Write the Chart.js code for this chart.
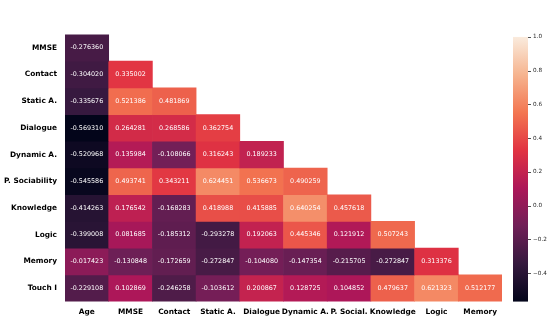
<!DOCTYPE html>
<html>
<head>
<meta charset="utf-8">
<script src="https://cdn.jsdelivr.net/npm/chart.js@4/dist/chart.umd.min.js"></script>
<style>
  html, body { margin: 0; padding: 0; background: #ffffff; }
  canvas { display: block; }
</style>
</head>
<body>
<canvas id="c" width="550" height="336"></canvas>
<script>
// ---- data ----
const rowLabels = ["MMSE", "Contact", "Static A.", "Dialogue", "Dynamic A.", "P. Sociability", "Knowledge", "Logic", "Memory", "Touch I"];
const colLabels = ["Age", "MMSE", "Contact", "Static A.", "Dialogue", "Dynamic A.", "P. Social.", "Knowledge", "Logic", "Memory"];

const rowMMSE        = [-0.276360];
const rowContact     = [-0.304020, 0.335002];
const rowStaticA     = [-0.335676, 0.521386, 0.481869];
const rowDialogue    = [-0.569310, 0.264281, 0.268586, 0.362754];
const rowDynamicA    = [-0.520968, 0.135984, -0.108066, 0.316243, 0.189233];
const rowPSociab     = [-0.545586, 0.493741, 0.343211, 0.624451, 0.536673, 0.490259];
const rowKnowledge   = [-0.414263, 0.176542, -0.168283, 0.418988, 0.415885, 0.640254, 0.457618];
const rowLogic       = [-0.399008, 0.081685, -0.185312, -0.293278, 0.192063, 0.445346, 0.121912, 0.507243];
const rowMemory      = [-0.017423, -0.130848, -0.172659, -0.272847, -0.104080, -0.147354, -0.215705, -0.272847, 0.313376];
const rowTouchI      = [-0.229108, 0.102869, -0.246258, -0.103612, 0.200867, 0.128725, 0.104852, 0.479637, 0.621323, 0.512177];

const rows = [rowMMSE, rowContact, rowStaticA, rowDialogue, rowDynamicA, rowPSociab, rowKnowledge, rowLogic, rowMemory, rowTouchI];

const colorbarTicks = [-0.4, -0.2, 0.0, 0.2, 0.4, 0.6, 0.8, 1.0];
const vmin = -0.569310;
const vmax = 1.0;

// ---- rocket colormap ----
const rocketStops = [
  [0.000, [3, 5, 26]],
  [0.143, [53, 25, 62]],
  [0.286, [112, 31, 87]],
  [0.429, [173, 23, 89]],
  [0.571, [225, 51, 66]],
  [0.714, [243, 118, 81]],
  [0.857, [246, 180, 143]],
  [1.000, [250, 235, 221]]
];
function rocketRGB(t) {
  t = Math.max(0, Math.min(1, t));
  for (let i = 1; i < rocketStops.length; i++) {
    const [t1, c1] = rocketStops[i];
    const [t0, c0] = rocketStops[i - 1];
    if (t <= t1) {
      const f = (t - t0) / (t1 - t0);
      return c0.map((v, k) => Math.round(v + (c1[k] - v) * f));
    }
  }
  return rocketStops[rocketStops.length - 1][1];
}
function valueRGB(v) { return rocketRGB((v - vmin) / (vmax - vmin)); }
function rgbStr(c) { return `rgb(${c[0]},${c[1]},${c[2]})`; }
function luminance(c) {
  const lin = c.map(x => { x /= 255; return x <= 0.03928 ? x / 12.92 : Math.pow((x + 0.055) / 1.055, 2.4); });
  return 0.2126 * lin[0] + 0.7152 * lin[1] + 0.0722 * lin[2];
}

// ---- datasets: one per row, floating bars spanning the row ----
const datasets = rows.map((vals, i) => ({
  label: rowLabels[i],
  values: vals,
  data: colLabels.map((_, j) => j < vals.length ? [i - 0.5, i + 0.5] : null),
  backgroundColor: colLabels.map((_, j) => j < vals.length ? rgbStr(valueRGB(vals[j])) : 'rgba(0,0,0,0)'),
  borderWidth: 0,
  grouped: false,
  barPercentage: 1.0,
  categoryPercentage: 1.0,
  yAxisID: 'y'
}));

const FONT = "'DejaVu Sans', sans-serif";

const annotPlugin = {
  id: 'annot',
  afterDatasetsDraw(chart) {
    const ctx = chart.ctx;
    ctx.save();
    ctx.font = `6.4px ${FONT}`;
    ctx.textAlign = 'center';
    ctx.textBaseline = 'middle';
    chart.data.datasets.forEach((ds, i) => {
      const meta = chart.getDatasetMeta(i);
      meta.data.forEach((el, j) => {
        if (j >= ds.values.length) return;
        const v = ds.values[j];
        const c = valueRGB(v);
        ctx.fillStyle = luminance(c) < 0.408 ? '#ffffff' : '#262626';
        const cy = (el.y + el.base) / 2;
        ctx.fillText(v.toFixed(6), el.x, cy);
      });
    });
    ctx.restore();
  }
};

const colorbarPlugin = {
  id: 'colorbar',
  afterDraw(chart) {
    const sc = chart.scales.cb;
    const ctx = chart.ctx;
    const x0 = 513, w = 15;
    const yTop = sc.getPixelForValue(vmax);
    const yBot = sc.getPixelForValue(vmin);
    const g = ctx.createLinearGradient(0, yBot, 0, yTop);
    rocketStops.forEach(([t, c]) => g.addColorStop(t, rgbStr(c)));
    ctx.save();
    ctx.fillStyle = g;
    ctx.fillRect(x0, yTop, w, yBot - yTop);
    ctx.strokeStyle = '#262626';
    ctx.lineWidth = 0.8;
    colorbarTicks.forEach(v => {
      const y = Math.round(sc.getPixelForValue(v)) + 0.5;
      ctx.beginPath();
      ctx.moveTo(x0 + w, y);
      ctx.lineTo(x0 + w + 3, y);
      ctx.stroke();
    });
    ctx.restore();
  }
};

new Chart(document.getElementById('c'), {
  type: 'bar',
  data: { labels: colLabels, datasets },
  options: {
    responsive: false,
    animation: false,
    devicePixelRatio: 1,
    layout: { padding: { top: 4, left: 0, right: 0, bottom: 0 } },
    plugins: { legend: { display: false }, tooltip: { enabled: false } },
    scales: {
      x: {
        type: 'category',
        offset: true,
        grid: { display: false, drawTicks: false },
        border: { display: false },
        ticks: { color: '#000', font: { family: FONT, size: 7.4, weight: 'bold' }, padding: 6, maxRotation: 0, autoSkip: false },
        afterFit(s) { s.height = 19; }
      },
      y: {
        type: 'linear',
        position: 'left',
        reverse: true,
        min: -0.5,
        max: 9.5,
        grid: { display: false, drawTicks: false },
        border: { display: false },
        afterBuildTicks(s) { s.ticks = rowLabels.map((_, i) => ({ value: i })); },
        ticks: {
          color: '#000',
          font: { family: FONT, size: 7.4, weight: 'bold' },
          padding: 8,
          autoSkip: false,
          callback: (v) => rowLabels[v]
        },
        afterFit(s) { s.width = 65; }
      },
      cb: {
        type: 'linear',
        position: 'right',
        min: vmin,
        max: 1.015,
        grid: { display: false, drawTicks: false },
        border: { display: false },
        afterBuildTicks(s) { s.ticks = colorbarTicks.map(v => ({ value: v })); },
        ticks: {
          color: '#262626',
          font: { family: FONT, size: 5.7 },
          padding: 31,
          autoSkip: false,
          callback: (v) => (v < 0 ? '\u2212' : '') + Math.abs(v).toFixed(1)
        },
        afterFit(s) { s.width = 48; }
      }
    }
  },
  plugins: [annotPlugin, colorbarPlugin]
});
</script>
</body>
</html>
